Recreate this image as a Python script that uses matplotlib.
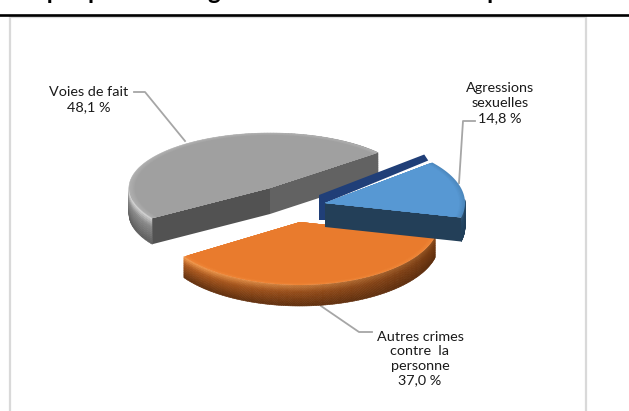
import numpy as np
import matplotlib
matplotlib.use('Agg')
import matplotlib.pyplot as plt
from matplotlib.collections import PolyCollection
from matplotlib.colors import to_rgb

categories = ['Voies de fait', 'Autres crimes\ncontre  la\npersonne', 'Agressions\nsexuelles']
shares = [48.1, 37.0, 14.8]
share_labels = ['48,1 %', '37,0 %', '14,8 %']
title = 'Graphique 1 : Catégories de crimes contre la personne'

START_ANGLE = 40
# position of each slice apex, in pixels of the picture
APEX = [(270, 188), (300, 222), (325, 203)]
RX = [141, 139, 140]
RY = [55, 63, 63]
DEPTH = [26, 21, 24]
TOP = ['#a0a0a0', '#e97b2d', '#5798d3']
RIM_TOP = ['#d8d8d8', '#ffa04e', '#5f9bd0']
RIM_MID = ['#8e8e8e', '#b85f20', '#2f5d85']
RIM_LOW = ['#5a5a5a', '#5c2d0d', '#1f3d57']

plt.rcParams['font.family'] = ['Lato', 'DejaVu Sans']

fig = plt.figure(figsize=(6.29, 4.11), dpi=100)
ax = fig.add_axes([0, 0, 1, 1])
ax.set_xlim(0, 629)
ax.set_ylim(411, 0)
ax.axis('off')


def mix(a, b, k):
    a, b = np.array(to_rgb(a)), np.array(to_rgb(b))
    return tuple(a + (b - a) * k)


def rim_point(i, t, scale=1.0):
    return APEX[i][0] + scale * RX[i] * np.cos(t), APEX[i][1] - scale * RY[i] * np.sin(t)


def top_outline(i, t0, t1, scale=1.0):
    ts = np.linspace(t0, t1, 90)
    xs = [APEX[i][0]] + [rim_point(i, t, scale)[0] for t in ts]
    ys = [APEX[i][1]] + [rim_point(i, t, scale)[1] for t in ts]
    return np.column_stack([xs, ys])


def draw_rim(i, t0, t1):
    # side of the cake, split in small quads to get the soft bevel shading
    polys, cols = [], []
    ts = np.linspace(t0, t1, 140)
    levels = np.linspace(0, 1, 13)
    for a, b in zip(ts[:-1], ts[1:]):
        if np.sin(a) > 0.05 and np.sin(b) > 0.05 and i != 0:
            continue
        # darker toward the right hand side
        side = 0.5 - 0.5 * np.cos(a) * 0.9
        for la, lb in zip(levels[:-1], levels[1:]):
            xa, ya = rim_point(i, a)
            xb, yb = rim_point(i, b)
            polys.append([(xa, ya + la * DEPTH[i]), (xb, yb + la * DEPTH[i]),
                          (xb, yb + lb * DEPTH[i]), (xa, ya + lb * DEPTH[i])])
            if la < 0.3:
                c = mix(RIM_TOP[i], RIM_MID[i], la / 0.3)
            else:
                c = mix(RIM_MID[i], RIM_LOW[i], (la - 0.3) / 0.7)
            cols.append(mix(c, RIM_LOW[i], 0.75 * (1 - side)))
    ax.add_collection(PolyCollection(polys, facecolors=cols, edgecolors=cols, linewidths=0.4, zorder=3 + i))


def draw_cut(i, t, color, zorder):
    # flat cut face going from the apex to the rim, extruded downwards
    x0, y0 = APEX[i]
    x1, y1 = rim_point(i, t)
    ax.fill([x0, x1, x1, x0], [y0, y1, y1 + DEPTH[i], y0 + DEPTH[i]], color=color, lw=0, zorder=zorder)


edges = START_ANGLE + np.cumsum([0] + shares) / sum(shares) * 360
angles = np.radians(edges)

for i in [0, 2, 1]:
    t0, t1 = angles[i], angles[i + 1]
    z = 3 + i
    if i == 2:
        # dark inner face showing behind the blue slice
        x0, y0 = APEX[i]
        x1, y1 = rim_point(i, t1)
        ax.fill([x0 - 6, x1 - 8, x1 - 4, x0, x0, x0 - 6],
                [y0 - 8, y1 - 8, y1 - 2, y0, y0 + 17, y0 + 17],
                color='#203f78', lw=0, zorder=z)
    draw_rim(i, t0, t1)
    if i == 0:
        draw_cut(i, t1, '#525252', z)
        draw_cut(i, t0, '#626262', z)
    if i == 2:
        draw_cut(i, t0, '#233f58', z)
    # bevel on the top face, a bit lighter near the rim
    for s, k in zip(np.linspace(1.0, 0.96, 5), np.linspace(0.45, 0, 5)):
        col = mix(TOP[i], RIM_TOP[i], k * 0.6) if i != 2 else mix(TOP[i], RIM_MID[i], k * 0.6)
        ax.fill(*top_outline(i, t0, t1, s).T, color=col, lw=0, zorder=z + 0.1)
    ax.fill(*top_outline(i, t0, t1, 0.95).T, color=TOP[i], lw=0, zorder=z + 0.1)

# frame and rule of the page
ax.plot([10, 10, 586, 586], [411, 17, 17, 411], color='#d9d9d9', lw=1.6, zorder=1, solid_joinstyle='miter')
ax.plot([0, 629], [15.5, 15.5], color='black', lw=1.9, zorder=2)
ax.text(298, -1, title, ha='center', va='baseline', fontsize=17.4, fontweight='bold', color='black')

# leader lines
leader = '#a6a6a6'
ax.plot([134, 145, 185], [92, 92, 141], color=leader, lw=1.3, zorder=2)
ax.plot([475, 463, 459], [121, 121, 183], color=leader, lw=1.3, zorder=2)
ax.plot([372, 359, 321], [332, 332, 306], color=leader, lw=1.3, zorder=2)

text_col = '#1a1a1a'
ax.text(89, 113, categories[0] + '\n' + share_labels[0], ha='center', va='bottom', fontsize=10.4,
        color=text_col, linespacing=1.3)
ax.text(500, 124, categories[2] + '\n' + share_labels[2], ha='center', va='bottom', fontsize=10.4,
        color=text_col, linespacing=1.3)
ax.text(420, 386, categories[1] + '\n' + share_labels[1], ha='center', va='bottom', fontsize=10.4,
        color=text_col, linespacing=1.25)

fig.savefig('out.png', dpi=100)
